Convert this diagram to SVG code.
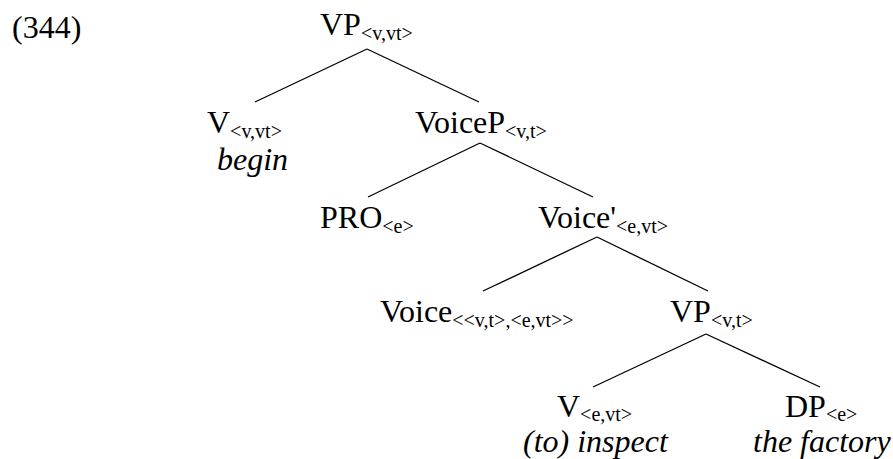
<svg xmlns="http://www.w3.org/2000/svg" width="893" height="459" viewBox="0 0 893 459">
<style>
text{font-family:"Liberation Serif","Times New Roman",serif;font-size:32px;fill:#000}
.s{font-size:20px}
.i{font-style:italic}
#connectors line{stroke:#000;stroke-width:1.3}
</style>
<rect width="893" height="459" fill="#fff"/>
<text x="12" y="38">(344)</text>
<g id="connectors">
<line x1="367" y1="49" x2="255" y2="102"/>
<line x1="367" y1="49" x2="479" y2="102"/>
<line x1="480" y1="143" x2="368" y2="197"/>
<line x1="480" y1="143" x2="593" y2="197"/>
<line x1="597" y1="237" x2="483" y2="291"/>
<line x1="597" y1="237" x2="708" y2="291"/>
<line x1="706" y1="334" x2="593" y2="387"/>
<line x1="706" y1="334" x2="820" y2="387"/>
</g>
<g id="vp-top"><text x="320" y="35">VP<tspan class="s" dy="5">&lt;v,vt&gt;</tspan></text></g>
<g id="v-begin"><text x="207" y="133">V<tspan class="s" dy="5">&lt;v,vt&gt;</tspan></text><text class="i" x="217" y="170">begin</text></g>
<g id="voicep"><text x="415" y="133">VoiceP<tspan class="s" dy="5">&lt;v,t&gt;</tspan></text></g>
<g id="pro"><text x="320" y="228">PRO<tspan class="s" dy="5">&lt;e&gt;</tspan></text></g>
<g id="voicebar"><text x="538" y="228">Voice'<tspan class="s" dy="5">&lt;e,vt&gt;</tspan></text></g>
<g id="voice"><text x="380" y="322">Voice<tspan class="s" dy="5">&lt;&lt;v,t&gt;,&lt;e,vt&gt;&gt;</tspan></text></g>
<g id="vp-low"><text x="670" y="322">VP<tspan class="s" dy="5">&lt;v,t&gt;</tspan></text></g>
<g id="v-inspect"><text x="557" y="417">V<tspan class="s" dy="4">&lt;e,vt&gt;</tspan></text><text class="i" x="523" y="452">(to) inspect</text></g>
<g id="dp"><text x="785" y="417">DP<tspan class="s" dy="4">&lt;e&gt;</tspan></text><text class="i" x="753" y="452">the factory</text></g>
</svg>
